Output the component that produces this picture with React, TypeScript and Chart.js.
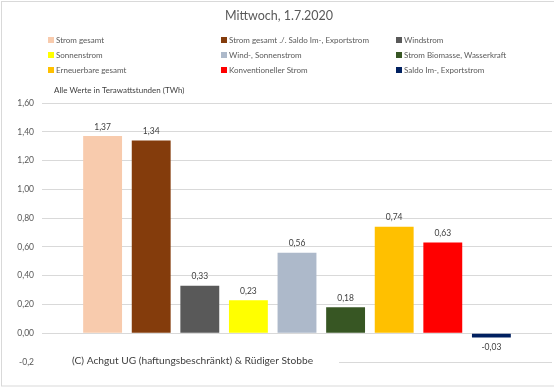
import React, { useEffect, useRef } from "react";
import { Chart, registerables } from "chart.js";

Chart.register(...registerables);

const TITLE = "Mittwoch, 1.7.2020";
const SUBTITLE = "Alle Werte in Terawattstunden (TWh)";
const FOOTER = "(C) Achgut UG (haftungsbeschränkt) & Rüdiger Stobbe";

const seriesNames = [
  "Strom gesamt",
  "Strom gesamt ./. Saldo Im-, Exportstrom",
  "Windstrom",
  "Sonnenstrom",
  "Wind-, Sonnenstrom",
  "Strom Biomasse, Wasserkraft",
  "Erneuerbare gesamt",
  "Konventioneller Strom",
  "Saldo Im-, Exportstrom",
];
const seriesValues = [1.37, 1.34, 0.33, 0.23, 0.56, 0.18, 0.74, 0.63, -0.03];
const seriesColors = [
  "#F8CBAD",
  "#843C0C",
  "#595959",
  "#FFFF00",
  "#ADB9CA",
  "#375623",
  "#FFC000",
  "#FF0000",
  "#002060",
];
const yMin = -0.2;
const yMax = 1.6;
const yStep = 0.2;

const FONT = "Lato, 'Open Sans', sans-serif";

const fmt = (v: number) => v.toFixed(2).replace(".", ",");

const decorPlugin = {
  id: "decor",
  beforeDraw(chart: any) {
    const ctx = chart.ctx;
    ctx.save();
    ctx.fillStyle = "#ffffff";
    ctx.fillRect(0, 0, chart.width, chart.height);
    ctx.restore();
  },
  afterDatasetsDraw(chart: any) {
    const ctx = chart.ctx;
    ctx.save();
    ctx.font = `8.5px ${FONT}`;
    ctx.fillStyle = "#404040";
    ctx.textAlign = "center";
    ctx.textBaseline = "middle";
    chart.data.datasets.forEach((ds: any, i: number) => {
      const meta = chart.getDatasetMeta(i);
      meta.data.forEach((bar: any, j: number) => {
        const v = ds.data[j];
        const y = v >= 0 ? bar.y - 9 : bar.y + 10;
        ctx.fillText(fmt(v), bar.x, y);
      });
    });
    ctx.restore();
  },
  afterDraw(chart: any) {
    const ctx = chart.ctx;
    ctx.save();
    ctx.fillStyle = "#595959";
    ctx.font = `12.5px ${FONT}`;
    ctx.textAlign = "center";
    ctx.textBaseline = "middle";
    ctx.fillText(TITLE, 279, 16);
    const colX = [48, 221, 396];
    const rowY = [40, 55, 70];
    ctx.font = `8px ${FONT}`;
    ctx.textAlign = "left";
    chart.data.datasets.forEach((ds: any, i: number) => {
      const cx = colX[i % 3];
      const cy = rowY[Math.floor(i / 3)];
      ctx.fillStyle = ds.backgroundColor;
      ctx.fillRect(cx, cy - 3, 6, 6);
      ctx.fillStyle = "#595959";
      ctx.fillText(ds.label, cx + 8, cy + 0.5);
    });
    ctx.fillStyle = "#404040";
    ctx.font = `8px ${FONT}`;
    ctx.fillText(SUBTITLE, 54, 90);
    ctx.font = `10.2px ${FONT}`;
    const w = ctx.measureText(FOOTER).width;
    ctx.fillStyle = "#ffffff";
    ctx.fillRect(chart.chartArea.left, 354, 72 - chart.chartArea.left + w + 26, 16);
    ctx.fillStyle = "#404040";
    ctx.fillText(FOOTER, 72, 361);
    ctx.strokeStyle = "#d9d9d9";
    ctx.lineWidth = 1;
    ctx.strokeRect(1.5, 1.5, 600, 384.5);
    ctx.restore();
  },
};

export default function App() {
  const ref = useRef<HTMLCanvasElement | null>(null);
  useEffect(() => {
    if (!ref.current) return;
    const chart = new Chart(ref.current, {
      type: "bar",
      data: {
        labels: [""],
        datasets: seriesNames.map((name, i) => ({
          label: name,
          data: [seriesValues[i]],
          backgroundColor: seriesColors[i],
          borderWidth: 0,
          categoryPercentage: 0.8576,
          barPercentage: 0.8,
        })),
      },
      options: {
        animation: false,
        responsive: false,
        maintainAspectRatio: false,
        devicePixelRatio: 1,
        layout: { padding: { top: 103, bottom: 26, left: 0, right: 2 } },
        plugins: {
          legend: { display: false },
          title: { display: false },
          tooltip: { enabled: false },
        },
        scales: {
          x: { display: false, offset: true },
          y: {
            min: yMin,
            max: yMax,
            afterFit: (s: any) => {
              s.width = 42;
            },
            border: { display: false },
            grid: { color: "#d9d9d9", drawTicks: false, lineWidth: 1 },
            ticks: {
              stepSize: yStep,
              padding: 8,
              color: "#595959",
              font: { family: FONT, size: 8.5 },
              callback: (v: any) => {
                const n = Number(v);
                if (Math.abs(n - yMin) < 1e-9) return "-0,2";
                return fmt(n);
              },
            },
          },
        },
      },
      plugins: [decorPlugin],
    });
    return () => chart.destroy();
  }, []);
  return (
    <div style={{ position: "absolute", left: 0, top: 0, width: 554, height: 388 }}>
      <canvas ref={ref} width={554} height={388} style={{ width: 554, height: 388, display: "block" }} />
    </div>
  );
}
